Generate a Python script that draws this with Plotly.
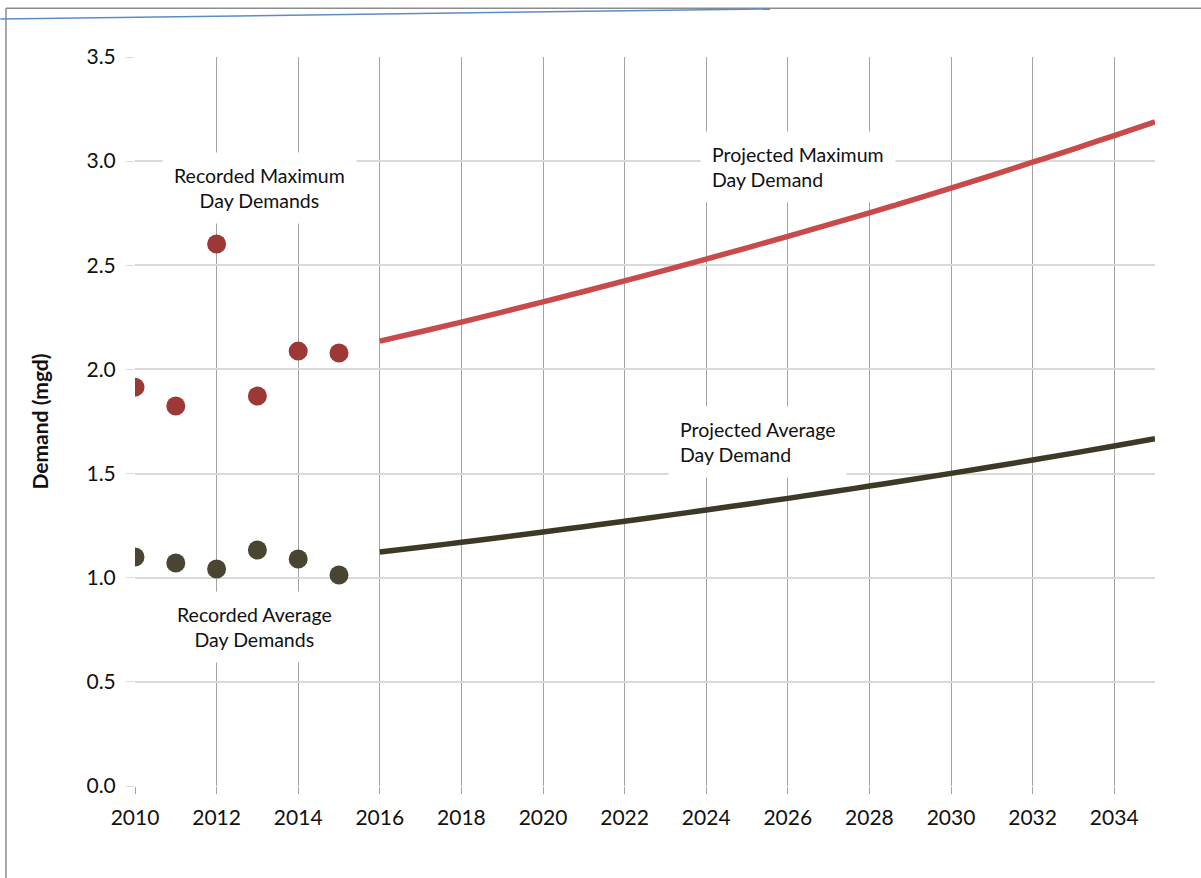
import plotly.graph_objects as go

rec_years = [2010, 2011, 2012, 2013, 2014, 2015]
rec_max = [1.915, 1.824, 2.602, 1.872, 2.088, 2.079]
rec_avg = [1.099, 1.071, 1.042, 1.133, 1.090, 1.013]

proj_years = list(range(2016, 2036))
proj_max = [2.136, 2.181, 2.227, 2.275, 2.324, 2.374, 2.425, 2.477, 2.530, 2.584,
            2.639, 2.695, 2.752, 2.811, 2.871, 2.932, 2.995, 3.058, 3.123, 3.189]
proj_avg = [1.123, 1.146, 1.170, 1.194, 1.219, 1.245, 1.271, 1.298, 1.325, 1.353,
            1.381, 1.410, 1.440, 1.470, 1.501, 1.533, 1.565, 1.598, 1.632, 1.667]

x_ticks = list(range(2010, 2036, 2))
y_ticks = [0.0, 0.5, 1.0, 1.5, 2.0, 2.5, 3.0, 3.5]

FONT = "Lato"
TXT = "#111111"
MAX_MARK = "#9c3836"
MAX_LINE = "#c94a4b"
AVG_MARK = "#4a4530"
AVG_LINE = "#3c3a27"

fig = go.Figure()
fig.add_trace(go.Scatter(x=proj_years, y=proj_max, mode="lines",
                         line=dict(color=MAX_LINE, width=5.5, shape="spline"),
                         showlegend=False))
fig.add_trace(go.Scatter(x=proj_years, y=proj_avg, mode="lines",
                         line=dict(color=AVG_LINE, width=5.5, shape="spline"),
                         showlegend=False))
fig.add_trace(go.Scatter(x=rec_years, y=rec_max, mode="markers",
                         marker=dict(color=MAX_MARK, size=19), showlegend=False))
fig.add_trace(go.Scatter(x=rec_years, y=rec_avg, mode="markers",
                         marker=dict(color=AVG_MARK, size=19), showlegend=False))

ann_font = dict(family=FONT, size=19.5, color=TXT)
annotations = [
    dict(x=2013.06, y=2.871, text="Recorded Maximum<br>Day Demands",
         xanchor="center", yanchor="middle", align="center"),
    dict(x=2012.94, y=0.764, text="Recorded Average<br>Day Demands",
         xanchor="center", yanchor="middle", align="center"),
    dict(x=2023.85, y=2.972, text="Projected Maximum<br>Day Demand",
         xanchor="left", yanchor="middle", align="left"),
    dict(x=2023.06, y=1.652, text="Projected Average<br>Day Demand",
         xanchor="left", yanchor="middle", align="left"),
]
for a in annotations:
    a.update(xref="x", yref="y", showarrow=False, bgcolor="white",
             borderpad=11, font=ann_font)

shapes = [
    dict(type="line", xref="paper", yref="paper", x0=-0.1265, x1=-0.1265,
         y0=-0.13, y1=1.067, line=dict(color="#8c8c8c", width=1.5)),
    dict(type="line", xref="paper", yref="paper", x0=-0.1265, x1=1.05,
         y0=1.067, y1=1.067, line=dict(color="#8c8c8c", width=1.5)),
    dict(type="line", xref="paper", yref="paper", x0=-0.132, x1=0.6225,
         y0=1.052, y1=1.066, line=dict(color="#5b8cc8", width=1.5)),
]

fig.update_layout(
    width=1201, height=878,
    margin=dict(l=135, r=46, t=57, b=92),
    paper_bgcolor="white", plot_bgcolor="white",
    font=dict(family=FONT, color=TXT),
    annotations=annotations,
    shapes=shapes,
    xaxis=dict(range=[2010, 2035], tickvals=x_ticks, ticktext=[str(v) for v in x_ticks],
               showgrid=True, gridcolor="#a3a3a3", gridwidth=1,
               ticks="outside", ticklen=7, tickcolor="#a3a3a3",
               tickfont=dict(family=FONT, size=21, color=TXT),
               showline=False, zeroline=False, ticklabelstandoff=6),
    yaxis=dict(range=[0, 3.5], tickvals=y_ticks, tickformat=".1f",
               showgrid=True, gridcolor="#d9d9d9", gridwidth=1.5,
               ticks="outside", ticklen=8, tickcolor="#d9d9d9",
               tickfont=dict(family=FONT, size=21, color=TXT),
               showline=False, zeroline=False, ticklabelstandoff=6,
               title=dict(text="<b>Demand (mgd)</b>", standoff=32,
                          font=dict(family=FONT, size=21, color=TXT))),
)

fig.write_html("out.html")
